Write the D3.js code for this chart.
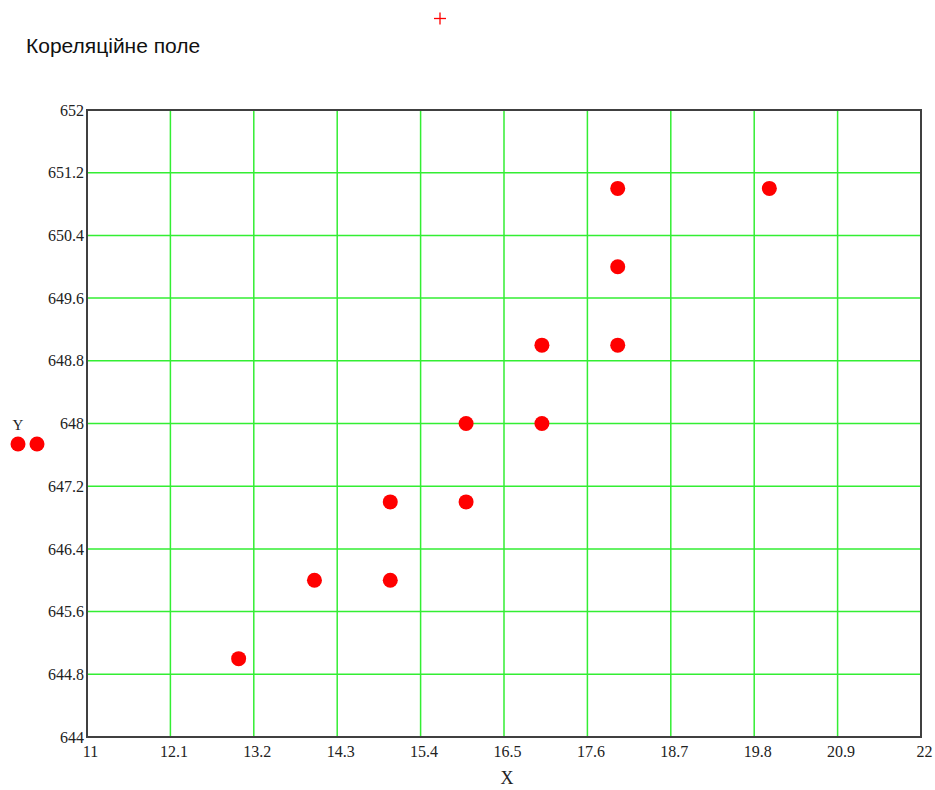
<!DOCTYPE html>
<html>
<head>
<meta charset="utf-8">
<script src="https://cdn.jsdelivr.net/npm/d3@7"></script>
<style>
  html, body { margin: 0; padding: 0; background: #fff; }
  svg { display: block; }
</style>
</head>
<body>
<svg id="chart" width="935" height="790"></svg>
<script>
// Observed pairs (X, Y)
const xValues = [13, 14, 15, 15, 16, 16, 17, 17, 18, 18, 18, 20];
const yValues = [645, 646, 646, 647, 647, 648, 648, 649, 649, 650, 651, 651];

// Axis ranges and tick labels
const xDomain = [11, 22];
const yDomain = [644, 652];
const xTicks = [11, 12.1, 13.2, 14.3, 15.4, 16.5, 17.6, 18.7, 19.8, 20.9, 22];
const yTicks = [644, 644.8, 645.6, 646.4, 647.2, 648, 648.8, 649.6, 650.4, 651.2, 652];

const titleText = "Кореляційне поле";
const xLabel = "X";
const yLabel = "Y";

const svg = d3.select("#chart");
const plot = { left: 87, top: 110, right: 921, bottom: 737 };

const x = d3.scaleLinear().domain(xDomain).range([plot.left, plot.right]);
const y = d3.scaleLinear().domain(yDomain).range([plot.bottom, plot.top]);

const gridColor = "#33ee33";
const dotColor = "#ff0000";
const serif = "'Liberation Serif', 'Times New Roman', serif";

// Grid lines
svg.append("g")
  .selectAll("line.vx")
  .data(xTicks.slice(1, -1))
  .join("line")
  .attr("x1", d => x(d)).attr("x2", d => x(d))
  .attr("y1", plot.top).attr("y2", plot.bottom)
  .attr("stroke", gridColor).attr("stroke-width", 1.5);

svg.append("g")
  .selectAll("line.hy")
  .data(yTicks.slice(1, -1))
  .join("line")
  .attr("x1", plot.left).attr("x2", plot.right)
  .attr("y1", d => y(d)).attr("y2", d => y(d))
  .attr("stroke", gridColor).attr("stroke-width", 1.5);

// Frame
svg.append("rect")
  .attr("x", plot.left).attr("y", plot.top)
  .attr("width", plot.right - plot.left).attr("height", plot.bottom - plot.top)
  .attr("fill", "none").attr("stroke", "#404040").attr("stroke-width", 2);

// Axes (labels only, using d3 axis generators)
const xAxis = svg.append("g")
  .attr("transform", `translate(0,${plot.bottom})`)
  .call(d3.axisBottom(x).tickValues(xTicks).tickSize(0).tickPadding(9)
    .tickFormat(d => String(+d.toFixed(1))));
xAxis.select(".domain").remove();
xAxis.selectAll("text")
  .attr("dx", 3)
  .attr("font-family", serif).attr("font-size", 16).attr("fill", "#222");

const yAxis = svg.append("g")
  .attr("transform", `translate(${plot.left},0)`)
  .call(d3.axisLeft(y).tickValues(yTicks).tickSize(0).tickPadding(3)
    .tickFormat(d => String(+d.toFixed(1))));
yAxis.select(".domain").remove();
yAxis.selectAll("text")
  .attr("font-family", serif).attr("font-size", 16).attr("fill", "#222");

// Data points
svg.append("g")
  .selectAll("circle")
  .data(xValues.map((v, i) => [v, yValues[i]]))
  .join("circle")
  .attr("cx", d => x(d[0]))
  .attr("cy", d => y(d[1]))
  .attr("r", 7.5)
  .attr("fill", dotColor);

// Title
svg.append("text")
  .attr("x", 26).attr("y", 53)
  .attr("font-family", "'Liberation Sans', Arial, sans-serif")
  .attr("font-size", 21).attr("fill", "#111")
  .text(titleText);

// Small red cross marker
const cross = svg.append("g").attr("stroke", "#ff0000").attr("stroke-width", 1.3);
cross.append("line").attr("x1", 434).attr("x2", 446).attr("y1", 18.5).attr("y2", 18.5);
cross.append("line").attr("x1", 440).attr("x2", 440).attr("y1", 12.5).attr("y2", 24.5);

// Axis titles
svg.append("text")
  .attr("x", 507).attr("y", 784)
  .attr("text-anchor", "middle")
  .attr("font-family", serif).attr("font-size", 18).attr("fill", "#222")
  .text(xLabel);

svg.append("text")
  .attr("x", 18).attr("y", 430)
  .attr("text-anchor", "middle")
  .attr("font-family", serif).attr("font-size", 15).attr("fill", "#222")
  .text(yLabel);

// Legend symbol for Y: two dots
svg.append("g")
  .selectAll("circle")
  .data([18, 37])
  .join("circle")
  .attr("cx", d => d).attr("cy", 444)
  .attr("r", 7.5)
  .attr("fill", dotColor);
</script>
</body>
</html>
